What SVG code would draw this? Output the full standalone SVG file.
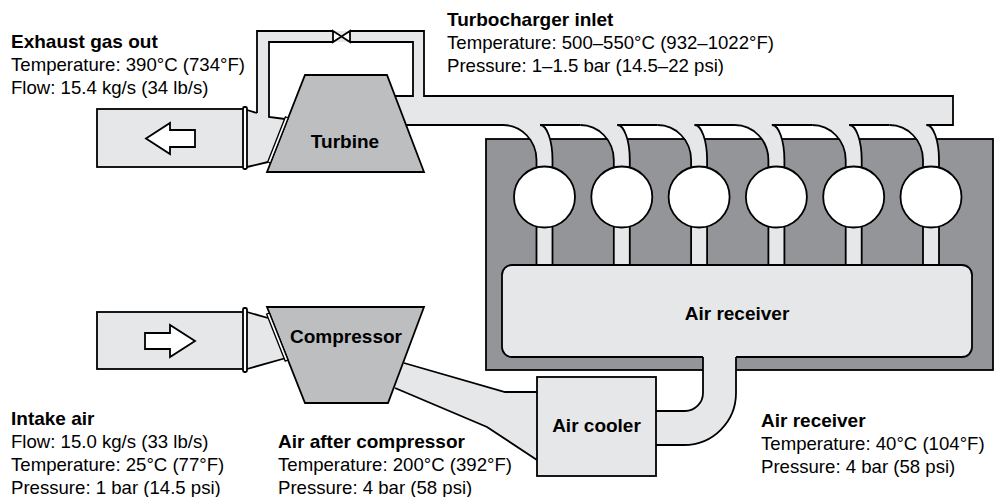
<svg xmlns="http://www.w3.org/2000/svg" width="996" height="497" viewBox="0 0 996 497">
<style>
text{font-family:"Liberation Sans",Arial,Helvetica,sans-serif;fill:#000}
.h{font-weight:bold;font-size:19px}
.r{font-size:18.6px}
.lbl{font-weight:bold;font-size:19px;text-anchor:middle}
.ln{fill:none;stroke:#000;stroke-width:1.8;stroke-linejoin:miter}
.lg{fill:#e6e7e8}
.ob{stroke:#000;stroke-width:1.8}
</style>
<rect width="996" height="497" fill="#fff"/>

<g id="engine-block">
<rect x="486" y="139" width="507" height="231" fill="#939598" class="ob"/>
</g>

<g id="connectors">
<!-- fills -->
<polyline points="263,118 263,36.5 418.5,36.5 418.5,100" fill="none" stroke="#e6e7e8" stroke-width="11"/>
<rect x="394" y="96" width="559" height="29" class="lg"/>
<polygon points="245,110 257,113 269,117 285,119 268,163 245,167" class="lg"/>
<path class="lg" d="M503,124 A33.5,35 0 0 1 536.5,160 V175 H552.5 V160 A12.5,35 0 0 0 540,124 Z"/>
<path class="lg" d="M580.3,124 A33.5,35 0 0 1 613.8,160 V175 H629.8 V160 A12.5,35 0 0 0 617.3,124 Z"/>
<path class="lg" d="M657.6,124 A33.5,35 0 0 1 691.1,160 V175 H707.1 V160 A12.5,35 0 0 0 694.6,124 Z"/>
<path class="lg" d="M734.9,124 A33.5,35 0 0 1 768.4,160 V175 H784.4 V160 A12.5,35 0 0 0 771.9,124 Z"/>
<path class="lg" d="M812.2,124 A33.5,35 0 0 1 845.7,160 V175 H861.7 V160 A12.5,35 0 0 0 849.2,124 Z"/>
<path class="lg" d="M889.5,124 A33.5,35 0 0 1 923,160 V175 H939 V160 A12.5,35 0 0 0 926.5,124 Z"/>
<rect x="536.5" y="220" width="16" height="45" class="lg"/>
<rect x="613.8" y="220" width="16" height="45" class="lg"/>
<rect x="691.1" y="220" width="16" height="45" class="lg"/>
<rect x="768.4" y="220" width="16" height="45" class="lg"/>
<rect x="845.7" y="220" width="16" height="45" class="lg"/>
<rect x="923" y="220" width="16" height="45" class="lg"/>
<polygon points="404,363 505,392 537,392 537,460 487,427 395,388" class="lg"/>
<polygon points="247,312 268,318 286,358 247,369" class="lg"/>
<!-- outlines -->
<path class="ln" d="M257,113 V31 H333 M350,31 H424 V96 H953 V125 H926.5"/>
<path class="ln" d="M285,119 L269,117 V42 H333 M350,42 H413 V96 H394"/>
<path class="ln" d="M406,125 H503 M540,125 H580.3 M617.3,125 H657.6 M694.6,125 H734.9 M771.9,125 H812.2 M849.2,125 H889.5"/>
<path class="ln" d="M503,125 A33.5,35 0 0 1 536.5,160 V172 M540,125 A12.5,35 0 0 1 552.5,160 V172"/>
<path class="ln" d="M580.3,125 A33.5,35 0 0 1 613.8,160 V172 M617.3,125 A12.5,35 0 0 1 629.8,160 V172"/>
<path class="ln" d="M657.6,125 A33.5,35 0 0 1 691.1,160 V172 M694.6,125 A12.5,35 0 0 1 707.1,160 V172"/>
<path class="ln" d="M734.9,125 A33.5,35 0 0 1 768.4,160 V172 M771.9,125 A12.5,35 0 0 1 784.4,160 V172"/>
<path class="ln" d="M812.2,125 A33.5,35 0 0 1 845.7,160 V172 M849.2,125 A12.5,35 0 0 1 861.7,160 V172"/>
<path class="ln" d="M889.5,125 A33.5,35 0 0 1 923,160 V172 M926.5,125 A12.5,35 0 0 1 939,160 V172"/>
<path class="ln" d="M536.5,220 V265 M552.5,220 V265 M613.8,220 V265 M629.8,220 V265 M691.1,220 V265 M707.1,220 V265 M768.4,220 V265 M784.4,220 V265 M845.7,220 V265 M861.7,220 V265 M923,220 V265 M939,220 V265"/>
<path class="ln" d="M247,110 L257,113 M247,167 L268,162"/>
<path class="ln" d="M247,312 L268,318 M247,369 L286,358"/>
<path class="ln" d="M404,363 L505,392 H537 M395,388 L487,427 L537,460"/>
<path d="M333,31 L341.5,36.5 L350,31 V42 L341.5,36.5 L333,42 Z" fill="#fff" class="ob" stroke-linejoin="miter"/>
</g>

<g id="cylinders">
<circle cx="544.5" cy="197" r="30.5" fill="#fff" class="ob"/>
<circle cx="621.8" cy="197" r="30.5" fill="#fff" class="ob"/>
<circle cx="699.1" cy="197" r="30.5" fill="#fff" class="ob"/>
<circle cx="776.4" cy="197" r="30.5" fill="#fff" class="ob"/>
<circle cx="853.7" cy="197" r="30.5" fill="#fff" class="ob"/>
<circle cx="931" cy="197" r="30.5" fill="#fff" class="ob"/>
</g>

<g id="air-receiver">
<rect x="502" y="265" width="470" height="92" rx="10" class="lg ob"/>
<text class="lbl" x="737" y="320">Air receiver</text>
</g>

<g id="receiver-cooler-pipe">
<path class="lg" d="M703,356 V393 A18,18 0 0 1 685,411 H655 V445 H684 A52,52 0 0 0 736,393 V356 Z"/>
<path class="ln" d="M703,357 V393 A18,18 0 0 1 685,411 H656 M736,357 V393 A52,52 0 0 1 684,445 H656"/>
</g>

<g id="air-cooler">
<rect x="537" y="377" width="119" height="99" class="lg ob"/>
<text class="lbl" x="596.5" y="432">Air cooler</text>
</g>

<g id="turbine">
<polygon points="305,75 387,75 424,172 267,172" fill="#bcbec0" class="ob"/>
<polygon points="288.2,118 270.5,163 267.7,161.9 285.4,116.9" fill="#fff" stroke="#000" stroke-width="1.3"/>
<text class="lbl" x="345" y="148">Turbine</text>
</g>

<g id="compressor">
<polygon points="267,307 424,307 388,403 305,403" fill="#bcbec0" class="ob"/>
<polygon points="269.4,313 288,360 285.2,361.1 266.6,314.1" fill="#fff" stroke="#000" stroke-width="1.3"/>
<text class="lbl" x="346" y="343">Compressor</text>
</g>

<g id="exhaust-duct">
<rect x="97" y="109" width="148" height="58" class="lg ob"/>
<rect x="243" y="107" width="4" height="62" rx="1.5" fill="#fff" class="ob"/>
<polygon points="146,138.5 170,123 170,130 195,130 195,147 170,147 170,154" fill="#fff" class="ob"/>
</g>

<g id="intake-duct">
<rect x="97" y="312" width="148" height="57" class="lg ob"/>
<rect x="243" y="308" width="4" height="64" rx="1.5" fill="#fff" class="ob"/>
<polygon points="145,333 170,333 170,325 195,341 170,357 170,349 145,349" fill="#fff" class="ob"/>
</g>

<g id="labels">
<text x="11" y="48" class="h">Exhaust gas out</text>
<text x="11" y="71" class="r">Temperature: 390°C (734°F)</text>
<text x="11" y="94" class="r">Flow: 15.4 kg/s (34 lb/s)</text>

<text x="447" y="26" class="h">Turbocharger inlet</text>
<text x="447" y="49" class="r">Temperature: 500–550°C (932–1022°F)</text>
<text x="447" y="72" class="r">Pressure: 1–1.5 bar (14.5–22 psi)</text>

<text x="11" y="425" class="h">Intake air</text>
<text x="11" y="448" class="r">Flow: 15.0 kg/s (33 lb/s)</text>
<text x="11" y="471" class="r">Temperature: 25°C (77°F)</text>
<text x="11" y="494" class="r">Pressure: 1 bar (14.5 psi)</text>

<text x="278" y="448" class="h">Air after compressor</text>
<text x="278" y="471" class="r">Temperature: 200°C (392°F)</text>
<text x="278" y="494" class="r">Pressure: 4 bar (58 psi)</text>

<text x="761" y="427" class="h">Air receiver</text>
<text x="761" y="450" class="r">Temperature: 40°C (104°F)</text>
<text x="761" y="473" class="r">Pressure: 4 bar (58 psi)</text>
</g>
</svg>
